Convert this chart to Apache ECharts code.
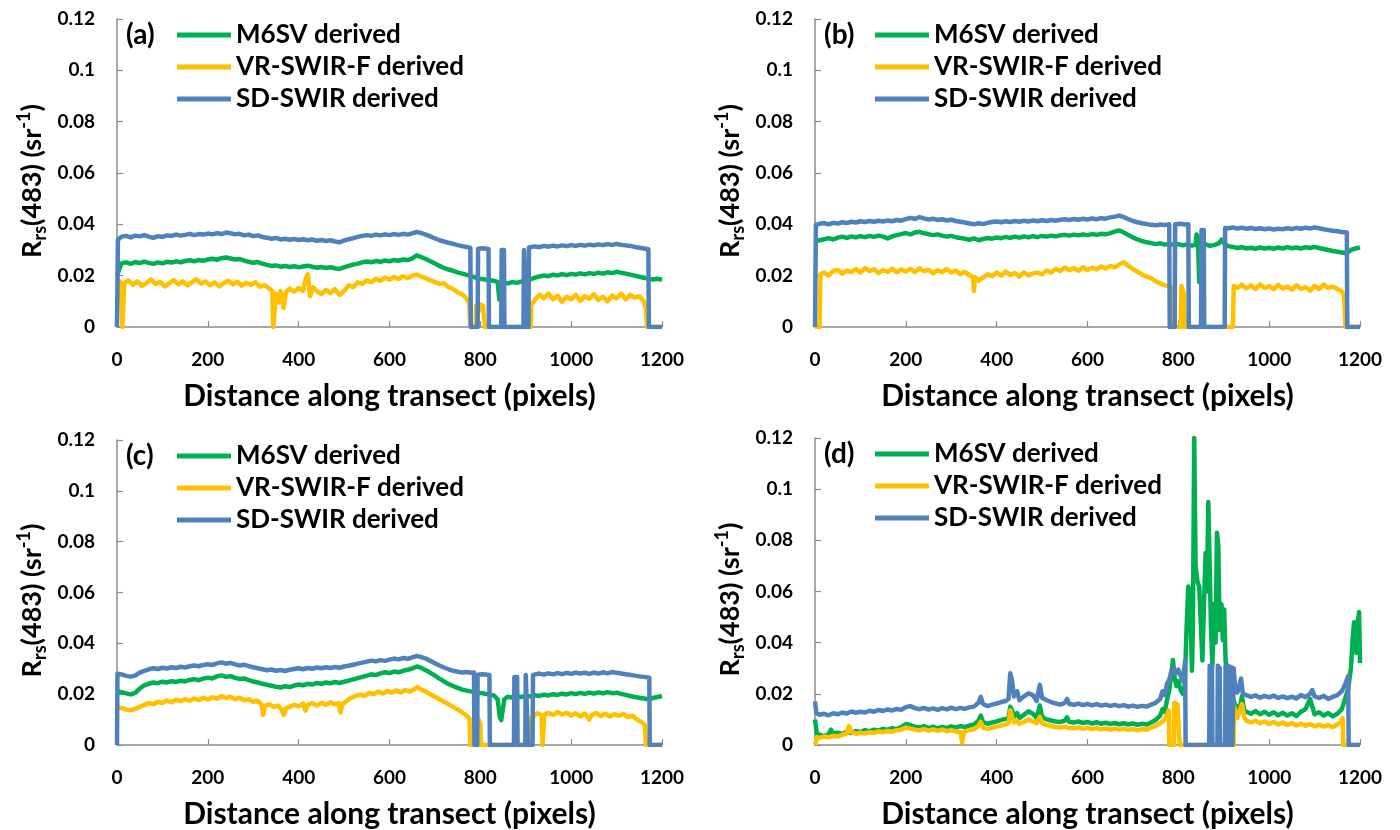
<!DOCTYPE html>
<html>
<head>
<meta charset="utf-8">
<script src="https://cdn.jsdelivr.net/npm/echarts@6/dist/echarts.min.js"></script>
<style>
  html, body { margin: 0; padding: 0; background: #fff; }
  #chart { width: 1400px; height: 830px; }
</style>
</head>
<body>
<div id="chart"></div>
<script>
// distance along transect (pixels), Rrs(483) (sr^-1)
const seriesNames = ['M6SV derived', 'VR-SWIR-F derived', 'SD-SWIR derived'];
const xTicks = [0, 200, 400, 600, 800, 1000, 1200];
const yTicks = [0, 0.02, 0.04, 0.06, 0.08, 0.1, 0.12];

// ---- panel (a)
const aGreen = [[0,0.0200],[10,0.0248],[20,0.0252],[30,0.0246],[40,0.0253],[50,0.0249],[60,0.0255],[70,0.0250],[80,0.0246],[90,0.0252],[100,0.0248],[110,0.0254],[120,0.0251],[130,0.0256],[140,0.0252],[150,0.0257],[160,0.0260],[170,0.0256],[180,0.0261],[190,0.0258],[200,0.0263],[210,0.0266],[220,0.0262],[230,0.0268],[240,0.0271],[250,0.0267],[260,0.0263],[270,0.0265],[280,0.0259],[290,0.0254],[300,0.0250],[310,0.0253],[320,0.0247],[330,0.0242],[340,0.0238],[350,0.0240],[360,0.0235],[370,0.0238],[380,0.0234],[390,0.0237],[400,0.0233],[410,0.0236],[420,0.0239],[430,0.0235],[440,0.0231],[450,0.0234],[460,0.0230],[470,0.0233],[480,0.0229],[490,0.0226],[500,0.0232],[510,0.0238],[520,0.0243],[530,0.0247],[540,0.0252],[550,0.0255],[560,0.0252],[570,0.0257],[580,0.0254],[590,0.0259],[600,0.0256],[610,0.0261],[620,0.0258],[630,0.0263],[640,0.0261],[650,0.0267],[660,0.0279],[670,0.0272],[680,0.0265],[690,0.0256],[700,0.0247],[710,0.0238],[720,0.0230],[730,0.0224],[740,0.0219],[750,0.0213],[760,0.0208],[770,0.0203],[780,0.0198],[790,0.0192],[800,0.0188],[810,0.0185],[820,0.0182],[830,0.0180],[838,0.0176],[842,0.0106],[846,0.0150],[850,0.0174],[860,0.0170],[870,0.0175],[880,0.0172],[890,0.0177],[900,0.0181],[910,0.0186],[920,0.0192],[930,0.0197],[940,0.0201],[950,0.0198],[960,0.0204],[970,0.0201],[980,0.0206],[990,0.0202],[1000,0.0207],[1010,0.0204],[1020,0.0209],[1030,0.0205],[1040,0.0210],[1050,0.0207],[1060,0.0212],[1070,0.0208],[1080,0.0213],[1090,0.0210],[1100,0.0215],[1110,0.0211],[1120,0.0208],[1130,0.0204],[1140,0.0200],[1150,0.0196],[1160,0.0192],[1170,0.0189],[1180,0.0185],[1190,0.0188],[1200,0.0184]];
const aYellow = [[0,0.0185],[8,0.0175],[12,0],[14,0],[16,0.0170],[25,0.0182],[35,0.0165],[45,0.0178],[55,0.0160],[65,0.0172],[75,0.0185],[85,0.0168],[95,0.0176],[105,0.0158],[115,0.0171],[125,0.0183],[135,0.0166],[145,0.0178],[155,0.0162],[165,0.0175],[175,0.0186],[185,0.0169],[195,0.0177],[205,0.0163],[215,0.0174],[225,0.0158],[235,0.0171],[245,0.0180],[255,0.0167],[265,0.0176],[275,0.0161],[285,0.0172],[295,0.0165],[305,0.0174],[315,0.0157],[325,0.0163],[335,0.0150],[342,0.0140],[344,0],[347,0],[350,0.0130],[355,0.0095],[360,0.0140],[367,0.0075],[372,0.0135],[380,0.0150],[390,0.0138],[400,0.0152],[410,0.0140],[415,0.0185],[420,0.0205],[425,0.0120],[432,0.0155],[440,0.0140],[450,0.0128],[460,0.0145],[470,0.0132],[480,0.0148],[490,0.0125],[500,0.0140],[510,0.0162],[520,0.0155],[530,0.0174],[540,0.0168],[550,0.0182],[560,0.0175],[570,0.0188],[580,0.0180],[590,0.0192],[600,0.0184],[610,0.0195],[620,0.0187],[630,0.0198],[640,0.0190],[650,0.0200],[660,0.0205],[670,0.0196],[680,0.0190],[690,0.0182],[700,0.0175],[710,0.0168],[720,0.0170],[730,0.0155],[740,0.0148],[750,0.0135],[760,0.0128],[770,0.0110],[776,0.0090],[778,0],[790,0],[791,0.0085],[796,0.0060],[800,0.0088],[806,0.0082],[810,0],[911,0],[912,0.0085],[920,0.0105],[930,0.0125],[940,0.0112],[950,0.0130],[960,0.0108],[970,0.0122],[980,0.0098],[990,0.0118],[1000,0.0108],[1010,0.0125],[1020,0.0102],[1030,0.0120],[1040,0.0110],[1050,0.0128],[1060,0.0105],[1070,0.0118],[1080,0.0100],[1090,0.0122],[1100,0.0112],[1110,0.0130],[1120,0.0108],[1130,0.0125],[1140,0.0115],[1150,0.0120],[1160,0.0100],[1165,0.0070],[1167,0],[1200,0]];
const aBlue = [[0,0],[2,0.0340],[10,0.0352],[20,0.0355],[30,0.0349],[40,0.0356],[50,0.0353],[60,0.0358],[70,0.0352],[80,0.0347],[90,0.0354],[100,0.0351],[110,0.0357],[120,0.0355],[130,0.0360],[140,0.0356],[150,0.0359],[160,0.0363],[170,0.0358],[180,0.0362],[190,0.0360],[200,0.0364],[210,0.0361],[220,0.0366],[230,0.0362],[240,0.0368],[250,0.0365],[260,0.0361],[270,0.0363],[280,0.0357],[290,0.0360],[300,0.0354],[310,0.0357],[320,0.0351],[330,0.0348],[340,0.0344],[350,0.0347],[360,0.0341],[370,0.0344],[380,0.0340],[390,0.0343],[400,0.0339],[410,0.0342],[420,0.0338],[430,0.0341],[440,0.0336],[450,0.0339],[460,0.0335],[470,0.0338],[480,0.0333],[490,0.0330],[500,0.0337],[510,0.0342],[520,0.0346],[530,0.0351],[540,0.0355],[550,0.0358],[560,0.0355],[570,0.0360],[580,0.0357],[590,0.0361],[600,0.0358],[610,0.0362],[620,0.0359],[630,0.0363],[640,0.0360],[650,0.0365],[660,0.0370],[670,0.0366],[680,0.0360],[690,0.0353],[700,0.0345],[710,0.0338],[720,0.0333],[730,0.0328],[740,0.0324],[750,0.0319],[760,0.0315],[770,0.0312],[778,0.0308],[779,0],[794,0],[795,0.0305],[805,0.0307],[818,0.0304],[819,0],[846,0],[847,0.0300],[852,0.0300],[853,0],[895,0],[896,0.0300],[900,0.0305],[901,0],[906,0],[907,0.0310],[920,0.0314],[930,0.0311],[940,0.0316],[950,0.0313],[960,0.0317],[970,0.0314],[980,0.0318],[990,0.0315],[1000,0.0319],[1010,0.0316],[1020,0.0320],[1030,0.0317],[1040,0.0321],[1050,0.0318],[1060,0.0322],[1070,0.0319],[1080,0.0323],[1090,0.0320],[1100,0.0324],[1110,0.0320],[1120,0.0318],[1130,0.0316],[1140,0.0312],[1150,0.0309],[1160,0.0306],[1170,0.0303],[1171,0],[1200,0]];

// ---- panel (b)
const bGreen = [[0,0.0333],[10,0.0338],[20,0.0342],[30,0.0346],[40,0.0341],[50,0.0348],[60,0.0352],[70,0.0347],[80,0.0353],[90,0.0349],[100,0.0354],[110,0.0350],[120,0.0355],[130,0.0351],[140,0.0356],[150,0.0352],[160,0.0345],[170,0.0353],[180,0.0358],[190,0.0362],[200,0.0366],[210,0.0361],[220,0.0368],[230,0.0371],[240,0.0365],[250,0.0362],[260,0.0358],[270,0.0361],[280,0.0356],[290,0.0352],[300,0.0355],[310,0.0350],[320,0.0347],[330,0.0344],[340,0.0340],[350,0.0345],[360,0.0338],[370,0.0343],[380,0.0347],[390,0.0344],[400,0.0349],[410,0.0346],[420,0.0351],[430,0.0347],[440,0.0352],[450,0.0348],[460,0.0353],[470,0.0349],[480,0.0354],[490,0.0350],[500,0.0355],[510,0.0352],[520,0.0356],[530,0.0353],[540,0.0357],[550,0.0359],[560,0.0356],[570,0.0360],[580,0.0357],[590,0.0361],[600,0.0358],[610,0.0362],[620,0.0359],[630,0.0363],[640,0.0361],[650,0.0366],[660,0.0372],[670,0.0376],[680,0.0368],[690,0.0358],[700,0.0349],[710,0.0341],[720,0.0335],[730,0.0330],[740,0.0327],[750,0.0323],[760,0.0326],[770,0.0321],[780,0.0324],[790,0.0320],[800,0.0323],[810,0.0318],[820,0.0322],[830,0.0317],[838,0.0320],[840,0.0360],[843,0.0350],[846,0.0175],[849,0.0300],[855,0.0318],[860,0.0322],[870,0.0316],[880,0.0320],[890,0.0327],[895,0.0340],[900,0.0328],[905,0.0320],[910,0.0315],[920,0.0312],[930,0.0308],[940,0.0311],[950,0.0306],[960,0.0309],[970,0.0305],[980,0.0310],[990,0.0306],[1000,0.0309],[1010,0.0305],[1020,0.0310],[1030,0.0306],[1040,0.0311],[1050,0.0307],[1060,0.0310],[1070,0.0306],[1080,0.0311],[1090,0.0308],[1100,0.0312],[1110,0.0308],[1120,0.0304],[1130,0.0300],[1140,0.0296],[1150,0.0293],[1160,0.0290],[1170,0.0287],[1180,0.0300],[1190,0.0306],[1200,0.0310]];
const bYellow = [[0,0],[10,0],[12,0.0205],[20,0.0212],[30,0.0200],[40,0.0218],[50,0.0222],[60,0.0208],[70,0.0220],[80,0.0214],[90,0.0226],[100,0.0212],[110,0.0230],[120,0.0218],[130,0.0225],[140,0.0210],[150,0.0222],[160,0.0215],[170,0.0228],[180,0.0213],[190,0.0224],[200,0.0216],[210,0.0227],[220,0.0214],[230,0.0229],[240,0.0218],[250,0.0223],[260,0.0209],[270,0.0221],[280,0.0214],[290,0.0226],[300,0.0212],[310,0.0220],[320,0.0206],[330,0.0215],[340,0.0202],[348,0.0195],[350,0.0140],[352,0.0195],[360,0.0180],[370,0.0192],[380,0.0205],[390,0.0198],[400,0.0212],[410,0.0200],[420,0.0216],[430,0.0203],[440,0.0210],[450,0.0196],[460,0.0213],[470,0.0201],[480,0.0209],[490,0.0212],[500,0.0205],[510,0.0220],[520,0.0212],[530,0.0226],[540,0.0218],[550,0.0232],[560,0.0221],[570,0.0230],[580,0.0219],[590,0.0233],[600,0.0222],[610,0.0231],[620,0.0224],[630,0.0236],[640,0.0228],[650,0.0238],[660,0.0232],[670,0.0244],[680,0.0252],[690,0.0238],[700,0.0226],[710,0.0215],[720,0.0205],[730,0.0196],[740,0.0190],[750,0.0178],[760,0.0170],[770,0.0162],[780,0.0158],[788,0.0150],[790,0],[805,0],[807,0.0160],[812,0.0130],[814,0],[920,0],[922,0.0160],[930,0.0152],[940,0.0165],[950,0.0150],[960,0.0162],[970,0.0148],[980,0.0166],[990,0.0152],[1000,0.0160],[1010,0.0147],[1020,0.0164],[1030,0.0150],[1040,0.0158],[1050,0.0145],[1060,0.0162],[1070,0.0149],[1080,0.0155],[1090,0.0142],[1100,0.0160],[1110,0.0148],[1120,0.0165],[1130,0.0152],[1140,0.0158],[1150,0.0148],[1160,0.0138],[1165,0.0120],[1168,0],[1200,0]];
const bBlue = [[0,0],[2,0.0398],[10,0.0402],[20,0.0405],[30,0.0400],[40,0.0406],[50,0.0403],[60,0.0408],[70,0.0405],[80,0.0410],[90,0.0407],[100,0.0412],[110,0.0409],[120,0.0413],[130,0.0410],[140,0.0414],[150,0.0411],[160,0.0415],[170,0.0412],[180,0.0417],[190,0.0414],[200,0.0420],[210,0.0425],[220,0.0421],[230,0.0428],[240,0.0423],[250,0.0419],[260,0.0422],[270,0.0417],[280,0.0420],[290,0.0415],[300,0.0418],[310,0.0413],[320,0.0410],[330,0.0407],[340,0.0403],[350,0.0400],[360,0.0404],[370,0.0401],[380,0.0406],[390,0.0409],[400,0.0411],[410,0.0408],[420,0.0412],[430,0.0409],[440,0.0413],[450,0.0410],[460,0.0414],[470,0.0411],[480,0.0415],[490,0.0412],[500,0.0416],[510,0.0413],[520,0.0417],[530,0.0414],[540,0.0418],[550,0.0420],[560,0.0417],[570,0.0421],[580,0.0418],[590,0.0422],[600,0.0419],[610,0.0423],[620,0.0420],[630,0.0424],[640,0.0422],[650,0.0427],[660,0.0430],[670,0.0434],[680,0.0428],[690,0.0420],[700,0.0413],[710,0.0408],[720,0.0404],[730,0.0401],[740,0.0398],[750,0.0396],[760,0.0399],[770,0.0397],[780,0.0400],[781,0],[792,0],[793,0.0400],[805,0.0402],[815,0.0399],[822,0.0400],[823,0],[850,0],[851,0.0378],[856,0.0378],[857,0],[902,0],[903,0.0386],[910,0.0385],[920,0.0388],[930,0.0384],[940,0.0387],[950,0.0383],[960,0.0386],[970,0.0382],[980,0.0385],[990,0.0381],[1000,0.0384],[1010,0.0380],[1020,0.0383],[1030,0.0381],[1040,0.0385],[1050,0.0382],[1060,0.0386],[1070,0.0383],[1080,0.0387],[1090,0.0384],[1100,0.0388],[1110,0.0385],[1120,0.0381],[1130,0.0378],[1140,0.0375],[1150,0.0373],[1160,0.0370],[1171,0.0368],[1172,0],[1200,0]];

// ---- panel (c)
const cGreen = [[0,0.0212],[10,0.0208],[20,0.0203],[30,0.0199],[40,0.0205],[50,0.0222],[60,0.0235],[70,0.0241],[80,0.0246],[90,0.0243],[100,0.0249],[110,0.0246],[120,0.0251],[130,0.0248],[140,0.0253],[150,0.0250],[160,0.0256],[170,0.0259],[180,0.0255],[190,0.0261],[200,0.0265],[210,0.0262],[220,0.0270],[230,0.0274],[240,0.0268],[250,0.0271],[260,0.0264],[270,0.0260],[280,0.0262],[290,0.0255],[300,0.0250],[310,0.0246],[320,0.0241],[330,0.0237],[340,0.0233],[350,0.0229],[360,0.0226],[370,0.0231],[380,0.0228],[390,0.0234],[400,0.0238],[410,0.0235],[420,0.0241],[430,0.0238],[440,0.0244],[450,0.0241],[460,0.0246],[470,0.0243],[480,0.0248],[490,0.0244],[500,0.0249],[510,0.0253],[520,0.0258],[530,0.0263],[540,0.0268],[550,0.0273],[560,0.0278],[570,0.0275],[580,0.0282],[590,0.0286],[600,0.0283],[610,0.0289],[620,0.0286],[630,0.0292],[640,0.0296],[650,0.0301],[660,0.0309],[670,0.0303],[680,0.0294],[690,0.0284],[700,0.0273],[710,0.0261],[720,0.0250],[730,0.0240],[740,0.0232],[750,0.0225],[760,0.0218],[770,0.0214],[780,0.0210],[790,0.0207],[800,0.0205],[810,0.0202],[820,0.0198],[830,0.0195],[838,0.0180],[843,0.0110],[846,0.0098],[849,0.0135],[853,0.0180],[860,0.0190],[870,0.0187],[880,0.0192],[890,0.0189],[900,0.0194],[910,0.0191],[920,0.0196],[930,0.0193],[940,0.0198],[950,0.0195],[960,0.0200],[970,0.0197],[980,0.0202],[990,0.0199],[1000,0.0204],[1010,0.0200],[1020,0.0205],[1030,0.0201],[1040,0.0206],[1050,0.0202],[1060,0.0207],[1070,0.0203],[1080,0.0208],[1090,0.0204],[1100,0.0206],[1110,0.0201],[1120,0.0197],[1130,0.0193],[1140,0.0189],[1150,0.0186],[1160,0.0183],[1170,0.0180],[1180,0.0185],[1190,0.0189],[1200,0.0193]];
const cYellow = [[0,0.0150],[10,0.0145],[20,0.0140],[30,0.0136],[40,0.0142],[50,0.0150],[60,0.0158],[70,0.0165],[80,0.0160],[90,0.0170],[100,0.0165],[110,0.0175],[120,0.0168],[130,0.0178],[140,0.0172],[150,0.0181],[160,0.0174],[170,0.0183],[180,0.0176],[190,0.0186],[200,0.0179],[210,0.0188],[220,0.0182],[230,0.0192],[240,0.0185],[250,0.0190],[260,0.0180],[270,0.0186],[280,0.0176],[290,0.0180],[300,0.0170],[310,0.0174],[318,0.0160],[322,0.0118],[326,0.0155],[335,0.0160],[345,0.0150],[355,0.0155],[362,0.0140],[367,0.0118],[372,0.0145],[380,0.0150],[390,0.0158],[400,0.0152],[410,0.0163],[415,0.0135],[420,0.0158],[430,0.0165],[440,0.0155],[450,0.0166],[460,0.0158],[470,0.0168],[480,0.0160],[488,0.0165],[492,0.0128],[496,0.0160],[505,0.0172],[515,0.0185],[525,0.0192],[535,0.0198],[545,0.0193],[555,0.0205],[565,0.0200],[575,0.0210],[585,0.0203],[595,0.0212],[605,0.0206],[615,0.0214],[625,0.0207],[635,0.0216],[645,0.0210],[655,0.0220],[662,0.0228],[670,0.0218],[680,0.0210],[690,0.0200],[700,0.0190],[710,0.0180],[720,0.0170],[730,0.0160],[740,0.0150],[750,0.0140],[760,0.0128],[770,0.0115],[776,0.0105],[778,0],[794,0],[795,0.0105],[800,0.0085],[801,0],[906,0],[907,0.0100],[915,0.0110],[925,0.0125],[935,0.0118],[937,0],[939,0],[941,0.0120],[950,0.0126],[960,0.0118],[970,0.0130],[980,0.0120],[990,0.0127],[1000,0.0116],[1010,0.0125],[1020,0.0112],[1030,0.0124],[1040,0.0100],[1045,0.0118],[1055,0.0126],[1065,0.0114],[1075,0.0123],[1085,0.0112],[1095,0.0121],[1105,0.0115],[1115,0.0122],[1125,0.0110],[1135,0.0115],[1145,0.0100],[1155,0.0090],[1162,0.0080],[1165,0],[1200,0]];
const cBlue = [[0,0],[1,0.0280],[10,0.0278],[20,0.0272],[30,0.0269],[40,0.0273],[50,0.0285],[60,0.0292],[70,0.0298],[80,0.0302],[90,0.0299],[100,0.0304],[110,0.0301],[120,0.0306],[130,0.0303],[140,0.0308],[150,0.0305],[160,0.0310],[170,0.0313],[180,0.0310],[190,0.0315],[200,0.0318],[210,0.0315],[220,0.0321],[230,0.0325],[240,0.0320],[250,0.0323],[260,0.0317],[270,0.0313],[280,0.0316],[290,0.0310],[300,0.0306],[310,0.0302],[320,0.0298],[330,0.0294],[340,0.0297],[350,0.0292],[360,0.0295],[370,0.0291],[380,0.0296],[390,0.0299],[400,0.0302],[410,0.0298],[420,0.0303],[430,0.0300],[440,0.0305],[450,0.0302],[460,0.0306],[470,0.0303],[480,0.0307],[490,0.0304],[500,0.0309],[510,0.0312],[520,0.0316],[530,0.0320],[540,0.0324],[550,0.0328],[560,0.0332],[570,0.0329],[580,0.0334],[590,0.0331],[600,0.0336],[610,0.0340],[620,0.0337],[630,0.0342],[640,0.0339],[650,0.0345],[660,0.0350],[670,0.0346],[680,0.0340],[690,0.0331],[700,0.0322],[710,0.0313],[720,0.0305],[730,0.0298],[740,0.0292],[750,0.0288],[760,0.0285],[770,0.0287],[780,0.0284],[786,0.0285],[787,0],[793,0],[794,0.0276],[805,0.0278],[820,0.0275],[821,0],[874,0],[875,0.0268],[881,0.0268],[882,0],[899,0],[900,0.0275],[904,0.0275],[905,0],[915,0],[916,0.0276],[920,0.0278],[930,0.0281],[940,0.0277],[950,0.0282],[960,0.0278],[970,0.0283],[980,0.0279],[990,0.0284],[1000,0.0280],[1010,0.0285],[1020,0.0281],[1030,0.0284],[1040,0.0280],[1050,0.0285],[1060,0.0281],[1070,0.0286],[1080,0.0282],[1090,0.0287],[1100,0.0284],[1110,0.0281],[1120,0.0278],[1130,0.0276],[1140,0.0273],[1150,0.0270],[1160,0.0268],[1172,0.0265],[1173,0],[1200,0]];

// ---- panel (d)
const dGreen = [[0,0.0100],[4,0.0045],[10,0.0040],[20,0.0035],[30,0.0042],[35,0.0060],[40,0.0045],[50,0.0048],[60,0.0043],[70,0.0052],[80,0.0047],[90,0.0055],[100,0.0050],[110,0.0058],[120,0.0053],[130,0.0060],[140,0.0056],[150,0.0063],[160,0.0059],[170,0.0066],[180,0.0062],[190,0.0070],[200,0.0082],[210,0.0078],[220,0.0072],[230,0.0068],[240,0.0074],[250,0.0066],[260,0.0072],[270,0.0065],[280,0.0071],[290,0.0066],[300,0.0073],[310,0.0068],[320,0.0074],[330,0.0070],[340,0.0076],[350,0.0080],[360,0.0095],[365,0.0115],[370,0.0090],[380,0.0083],[390,0.0088],[400,0.0092],[410,0.0098],[420,0.0102],[426,0.0105],[430,0.0150],[434,0.0135],[438,0.0110],[445,0.0125],[450,0.0105],[460,0.0118],[470,0.0132],[480,0.0122],[488,0.0105],[495,0.0155],[500,0.0110],[510,0.0100],[520,0.0096],[530,0.0092],[540,0.0090],[550,0.0095],[555,0.0108],[560,0.0090],[570,0.0088],[580,0.0092],[590,0.0086],[600,0.0090],[610,0.0084],[620,0.0089],[630,0.0083],[640,0.0087],[650,0.0082],[660,0.0086],[670,0.0081],[680,0.0085],[690,0.0080],[700,0.0084],[710,0.0079],[720,0.0083],[730,0.0080],[740,0.0088],[750,0.0098],[760,0.0115],[765,0.0140],[770,0.0130],[775,0.0175],[780,0.0215],[785,0.0280],[788,0.0332],[792,0.0260],[796,0.0230],[800,0.0250],[805,0.0215],[810,0.0200],[814,0.0230],[818,0.0450],[822,0.0620],[826,0.0560],[830,0.0290],[832,0.0450],[835,0.1200],[838,0.0700],[842,0.0640],[846,0.0620],[850,0.0450],[853,0.0330],[856,0.0520],[860,0.0750],[863,0.0600],[866,0.0950],[869,0.0700],[872,0.0450],[875,0.0310],[878,0.0550],[882,0.0400],[885,0.0830],[888,0.0780],[891,0.0450],[895,0.0550],[898,0.0410],[901,0.0530],[904,0.0330],[908,0.0280],[912,0.0250],[918,0.0200],[924,0.0160],[930,0.0148],[935,0.0140],[940,0.0190],[945,0.0135],[950,0.0130],[960,0.0122],[970,0.0133],[980,0.0120],[990,0.0130],[1000,0.0118],[1010,0.0128],[1020,0.0116],[1030,0.0126],[1040,0.0115],[1050,0.0124],[1060,0.0113],[1070,0.0130],[1080,0.0140],[1090,0.0180],[1095,0.0150],[1100,0.0120],[1110,0.0128],[1120,0.0115],[1130,0.0125],[1140,0.0112],[1150,0.0122],[1160,0.0140],[1168,0.0185],[1174,0.0220],[1180,0.0300],[1184,0.0420],[1187,0.0480],[1190,0.0440],[1192,0.0360],[1195,0.0480],[1198,0.0520],[1200,0.0320]];
const dYellow = [[0,0],[3,0],[5,0.0030],[10,0.0028],[20,0.0033],[30,0.0030],[40,0.0036],[50,0.0033],[60,0.0040],[70,0.0045],[75,0.0075],[80,0.0050],[90,0.0044],[100,0.0048],[110,0.0045],[120,0.0050],[130,0.0047],[140,0.0053],[150,0.0050],[160,0.0055],[170,0.0052],[180,0.0058],[190,0.0060],[200,0.0068],[210,0.0064],[220,0.0060],[230,0.0057],[240,0.0062],[250,0.0056],[260,0.0061],[270,0.0055],[280,0.0060],[290,0.0054],[300,0.0058],[310,0.0053],[320,0.0050],[324,0.0010],[328,0.0052],[340,0.0058],[350,0.0062],[360,0.0075],[365,0.0090],[370,0.0068],[380,0.0063],[390,0.0067],[400,0.0072],[410,0.0076],[420,0.0080],[426,0.0085],[430,0.0135],[434,0.0110],[438,0.0088],[445,0.0095],[450,0.0082],[460,0.0090],[470,0.0100],[480,0.0092],[488,0.0085],[495,0.0110],[500,0.0085],[510,0.0078],[520,0.0074],[530,0.0070],[540,0.0068],[550,0.0072],[560,0.0066],[570,0.0065],[580,0.0069],[590,0.0063],[600,0.0067],[610,0.0062],[620,0.0066],[630,0.0061],[640,0.0065],[650,0.0060],[660,0.0064],[670,0.0060],[680,0.0063],[690,0.0059],[700,0.0062],[710,0.0058],[720,0.0062],[730,0.0060],[740,0.0068],[750,0.0075],[760,0.0085],[770,0.0100],[775,0.0120],[779,0.0135],[780,0],[790,0],[791,0.0165],[798,0.0160],[803,0],[922,0],[923,0.0150],[930,0.0105],[940,0.0160],[945,0.0110],[950,0.0095],[960,0.0088],[970,0.0095],[980,0.0085],[990,0.0092],[1000,0.0082],[1010,0.0090],[1020,0.0080],[1030,0.0088],[1040,0.0078],[1050,0.0086],[1060,0.0076],[1070,0.0084],[1080,0.0075],[1090,0.0082],[1100,0.0073],[1110,0.0080],[1120,0.0072],[1130,0.0078],[1140,0.0070],[1150,0.0080],[1158,0.0090],[1162,0.0105],[1163,0],[1200,0]];
const dBlue = [[0,0.0170],[3,0.0125],[10,0.0118],[20,0.0122],[30,0.0116],[40,0.0124],[50,0.0120],[60,0.0127],[70,0.0123],[80,0.0131],[90,0.0126],[100,0.0130],[110,0.0127],[120,0.0134],[130,0.0130],[140,0.0137],[150,0.0133],[160,0.0139],[170,0.0135],[180,0.0141],[190,0.0138],[200,0.0148],[210,0.0152],[220,0.0144],[230,0.0140],[240,0.0145],[250,0.0138],[260,0.0143],[270,0.0137],[280,0.0144],[290,0.0139],[300,0.0146],[310,0.0140],[320,0.0145],[330,0.0141],[340,0.0147],[350,0.0150],[360,0.0165],[365,0.0188],[370,0.0160],[380,0.0152],[390,0.0158],[400,0.0162],[410,0.0168],[420,0.0172],[426,0.0180],[430,0.0280],[434,0.0250],[438,0.0190],[445,0.0210],[450,0.0175],[460,0.0190],[470,0.0202],[480,0.0195],[488,0.0172],[495,0.0235],[500,0.0185],[510,0.0175],[520,0.0168],[530,0.0162],[540,0.0158],[550,0.0165],[555,0.0180],[560,0.0160],[570,0.0157],[580,0.0162],[590,0.0156],[600,0.0161],[610,0.0155],[620,0.0160],[630,0.0154],[640,0.0158],[650,0.0153],[660,0.0157],[670,0.0152],[680,0.0156],[690,0.0150],[700,0.0154],[710,0.0149],[720,0.0153],[730,0.0150],[740,0.0158],[750,0.0165],[760,0.0180],[765,0.0210],[770,0.0195],[775,0.0240],[780,0.0255],[785,0.0290],[790,0.0300],[795,0.0280],[800,0.0295],[805,0.0270],[810,0.0250],[815,0.0330],[816,0],[868,0],[869,0.0310],[874,0.0310],[875,0],[886,0],[887,0.0310],[891,0.0300],[892,0],[903,0],[904,0.0310],[907,0],[910,0.0310],[913,0],[916,0.0305],[919,0],[922,0.0300],[925,0.0220],[930,0.0205],[938,0.0260],[942,0.0200],[950,0.0195],[960,0.0188],[970,0.0194],[980,0.0185],[990,0.0192],[1000,0.0186],[1010,0.0193],[1020,0.0184],[1030,0.0190],[1040,0.0183],[1050,0.0189],[1060,0.0182],[1070,0.0195],[1080,0.0187],[1090,0.0200],[1095,0.0215],[1100,0.0190],[1110,0.0184],[1120,0.0192],[1130,0.0180],[1140,0.0188],[1150,0.0195],[1160,0.0210],[1168,0.0240],[1174,0.0270],[1175,0],[1200,0]];

const colors = ['#00B050', '#FFC000', '#4F81BD'];
const FONT = 'Lato';

const panels = [
  { tag: '(a)', left: 117, top: 19, lines: [aGreen, aYellow, aBlue] },
  { tag: '(b)', left: 815, top: 19, lines: [bGreen, bYellow, bBlue] },
  { tag: '(c)', left: 117, top: 440, lines: [cGreen, cYellow, cBlue] },
  { tag: '(d)', left: 815, top: 438, lines: [dGreen, dYellow, dBlue] }
];
const gridW = 545, gridH = 308;

let option = {
  animation: false,
  backgroundColor: '#fff',
  textStyle: { fontFamily: FONT },
  title: [],
  legend: [],
  grid: [],
  xAxis: [],
  yAxis: [],
  series: []
};

panels.forEach(function (p, i) {
  option.grid.push({ left: p.left, top: p.top, width: gridW, height: gridH, containLabel: false });
  option.title.push({
    text: p.tag, left: p.left + 4, top: p.top - 3,
    textStyle: { fontFamily: FONT, fontSize: 28, fontWeight: 'bold', color: '#000' }
  });
  option.legend.push({
    data: seriesNames, orient: 'vertical', left: p.left + 55, top: p.top - 2,
    icon: 'rect', itemWidth: 54, itemHeight: 5, itemGap: 6,
    selectedMode: false,
    textStyle: { fontFamily: FONT, fontSize: 26, fontWeight: 'bold', color: '#000' }
  });
  option.xAxis.push({
    type: 'value', gridIndex: i, min: xTicks[0], max: xTicks[xTicks.length - 1], interval: 200,
    name: 'Distance along transect (pixels)', nameLocation: 'middle', nameGap: 54,
    nameTextStyle: { fontFamily: FONT, fontSize: 30, fontWeight: 'bold', color: '#000' },
    axisLine: { lineStyle: { color: '#8c8c8c', width: 1.5 } },
    axisTick: { inside: true, length: 6, lineStyle: { color: '#8c8c8c', width: 1.2 } },
    axisLabel: {
      fontFamily: FONT, fontSize: 19, fontWeight: 'bold', color: '#000', margin: 23,
      formatter: function (v) { return String(v); }
    },
    splitLine: { show: false }
  });
  option.yAxis.push({
    type: 'value', gridIndex: i, min: yTicks[0], max: yTicks[yTicks.length - 1], interval: 0.02,
    name: '{r|R}{s|rs}{r|(483) (sr}{p|-1}{r|)}', nameLocation: 'middle', nameGap: 68,
    nameTextStyle: {
      padding: [0, 16, 0, 0],
      rich: {
        r: { fontFamily: FONT, fontSize: 27, fontWeight: 'bold', color: '#000', lineHeight: 34 },
        s: { fontFamily: FONT, fontSize: 18, fontWeight: 'bold', color: '#000', lineHeight: 14, verticalAlign: 'bottom' },
        p: { fontFamily: FONT, fontSize: 18, fontWeight: 'bold', color: '#000', lineHeight: 20, verticalAlign: 'top' }
      }
    },
    axisLine: { show: true, lineStyle: { color: '#8c8c8c', width: 1.5 } },
    axisTick: { show: true, inside: true, length: 6, lineStyle: { color: '#8c8c8c', width: 1.2 } },
    axisLabel: { fontFamily: FONT, fontSize: 19, fontWeight: 'bold', color: '#000', margin: 22 },
    splitLine: { show: false }
  });
  p.lines.forEach(function (pts, k) {
    option.series.push({
      name: seriesNames[k], type: 'line', xAxisIndex: i, yAxisIndex: i,
      data: pts, showSymbol: false, symbol: 'none', clip: true,
      lineStyle: { color: colors[k], width: 4.5, join: 'round' },
      itemStyle: { color: colors[k] },
      z: 2 + k
    });
  });
});

let chart = echarts.init(document.getElementById('chart'), null, { renderer: 'canvas' });
chart.setOption(option);
</script>
</body>
</html>
